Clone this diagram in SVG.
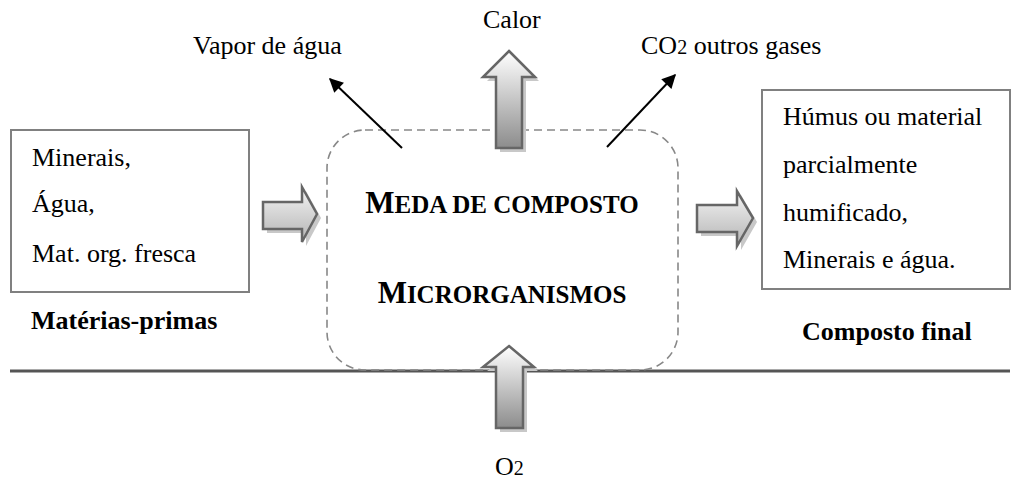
<svg xmlns="http://www.w3.org/2000/svg" width="1024" height="480" viewBox="0 0 1024 480" font-family="'Liberation Serif','Times New Roman',serif">
<defs>
<style>
.t{font-family:"Liberation Serif","Times New Roman",serif;font-size:26px;fill:#000}
.b{font-weight:bold}
.big{font-size:31px}
.sc{font-size:25px}
.sub{font-size:20px}
.box{fill:#fff;stroke:#808080;stroke-width:2}
.blk{stroke:#666;stroke-width:2.5;stroke-linejoin:miter}
.sh{fill:#c8c8c8}
.ln{stroke:#000;stroke-width:2;fill:none}
</style>
<linearGradient id="gv" x1="0" y1="0" x2="0" y2="1">
<stop offset="0" stop-color="#ffffff"/>
<stop offset="1" stop-color="#8c8c8c"/>
</linearGradient>
<linearGradient id="gh" x1="0" y1="0" x2="0" y2="1">
<stop offset="0" stop-color="#f4f4f4"/>
<stop offset="1" stop-color="#b4b4b4"/>
</linearGradient>
<marker id="ah" viewBox="0 0 10 10" refX="9" refY="5" markerWidth="7.5" markerHeight="7" orient="auto" markerUnits="strokeWidth">
<path d="M0,0 L10,5 L0,10 z" fill="#000"/>
</marker>
</defs>
<rect width="1024" height="480" fill="#fff"/>

<g id="ground">
<line x1="10" y1="371" x2="1010" y2="371" stroke="#555" stroke-width="3"/>
</g>

<g id="materias-primas">
<rect class="box" x="11" y="130" width="238" height="162"/>
<text class="t" x="32" y="166">Minerais,</text>
<text class="t" x="32" y="212">Água,</text>
<text class="t" x="32" y="262">Mat. org. fresca</text>
<text class="t b" x="31" y="329">Matérias-primas</text>
</g>

<g id="composto-final">
<rect class="box" x="762" y="90" width="248" height="199"/>
<text class="t" x="783" y="125">Húmus ou material</text>
<text class="t" x="783" y="173">parcialmente</text>
<text class="t" x="783" y="221">humificado,</text>
<text class="t" x="783" y="268">Minerais e água.</text>
<text class="t b" x="802" y="340">Composto final</text>
</g>

<g id="meda">
<rect x="327" y="130" width="351" height="240" rx="38" ry="38" fill="none" stroke="#888" stroke-width="1.6" stroke-dasharray="8,5"/>
<text class="t b big" x="502" y="213" text-anchor="middle">M<tspan class="sc">EDA DE COMPOSTO</tspan></text>
<text class="t b big" x="502" y="303" text-anchor="middle">M<tspan class="sc">ICRORGANISMOS</tspan></text>
</g>

<g id="connectors">
<g id="arrow-calor">
<path class="sh" d="M513,55 L539,81 L526,81 L526,152 L500,152 L500,81 L487,81 Z"/>
<path class="blk" fill="url(#gv)" d="M509,51 L535,77 L522,77 L522,148 L496,148 L496,77 L483,77 Z"/>
</g>
<g id="arrow-o2">
<path class="sh" d="M513,350 L538,371 L527,371 L527,432 L500,432 L500,371 L487,371 Z"/>
<path class="blk" fill="url(#gv)" d="M509,346 L534,367 L523,367 L523,428 L496,428 L496,367 L483,367 Z"/>
</g>
<g id="arrow-in">
<path class="sh" d="M267,206 L306,206 L306,191 L321,218 L306,246 L306,233 L267,233 Z"/>
<path class="blk" fill="url(#gh)" d="M263,202 L302,202 L302,187 L317,214 L302,242 L302,229 L263,229 Z"/>
</g>
<g id="arrow-out">
<path class="sh" d="M701,209 L741,209 L741,195 L757,222 L741,250 L741,236 L701,236 Z"/>
<path class="blk" fill="url(#gh)" d="M697,205 L737,205 L737,191 L753,218 L737,246 L737,232 L697,232 Z"/>
</g>
<line id="arrow-vapor" class="ln" x1="402" y1="148" x2="330" y2="79" marker-end="url(#ah)"/>
<line id="arrow-co2" class="ln" x1="607" y1="147" x2="675" y2="75" marker-end="url(#ah)"/>
</g>

<g id="labels">
<text class="t" x="483" y="28">Calor</text>
<text class="t" x="193" y="54">Vapor de água</text>
<text class="t" x="641" y="54">CO<tspan class="sub">2</tspan> outros gases</text>
<text class="t" x="495" y="475">O<tspan class="sub">2</tspan></text>
</g>
</svg>
